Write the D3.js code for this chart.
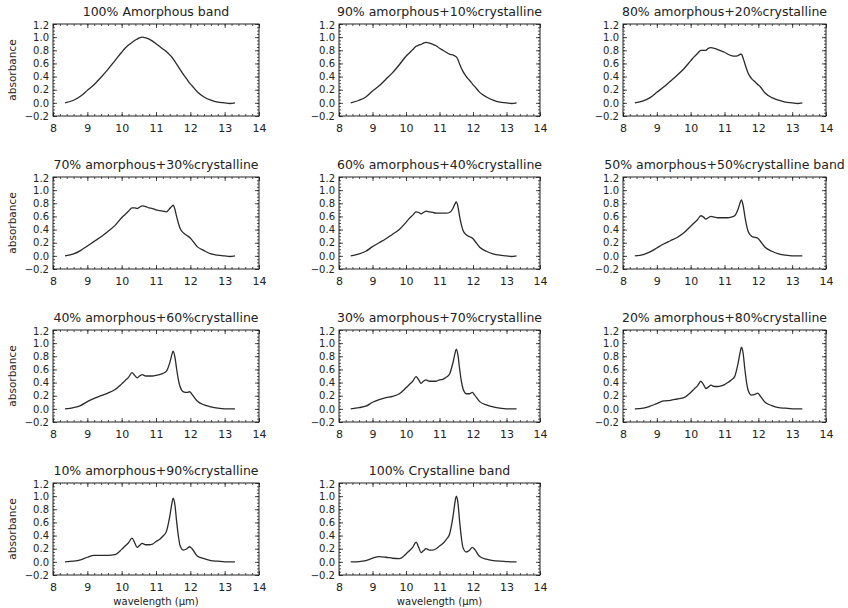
<!DOCTYPE html>
<html>
<head>
<meta charset="utf-8">
<script src="https://cdn.jsdelivr.net/npm/d3@7"></script>
<style>
  body { margin: 0; background: #fff; }
  text { font-family: "DejaVu Sans", sans-serif; fill: #222; }
</style>
</head>
<body>
<div id="chart"></div>
<script>
// wavelength grid (micron) shared by all panels
const wavelength = [8.35, 8.6, 8.8, 9.0, 9.2, 9.4, 9.6, 9.8, 10.0, 10.1, 10.2, 10.3, 10.38, 10.45, 10.52, 10.6, 10.7, 10.8, 10.9, 11.0,
  11.1, 11.2, 11.3, 11.4, 11.47, 11.5, 11.55, 11.6, 11.65, 11.7, 11.8, 11.9, 11.98, 12.05, 12.2, 12.4, 12.6, 12.8, 13.0, 13.15, 13.3];

// absorbance
const am100 = [0.00, 0.04, 0.10, 0.19, 0.28, 0.39, 0.51, 0.64, 0.77, 0.83, 0.88, 0.92, 0.95, 0.97, 0.99, 1.00, 0.99, 0.97, 0.94, 0.90,
  0.86, 0.82, 0.78, 0.73, 0.69, 0.67, 0.63, 0.59, 0.55, 0.51, 0.43, 0.36, 0.30, 0.26, 0.17, 0.09, 0.04, 0.01, 0.00, -0.01, 0.00];
const am90 = [0.00, 0.04, 0.09, 0.18, 0.26, 0.36, 0.46, 0.58, 0.71, 0.76, 0.81, 0.86, 0.88, 0.89, 0.91, 0.92, 0.91, 0.89, 0.87, 0.83,
  0.80, 0.77, 0.74, 0.73, 0.71, 0.70, 0.66, 0.59, 0.53, 0.48, 0.40, 0.34, 0.29, 0.25, 0.16, 0.09, 0.04, 0.01, 0.00, -0.01, 0.00];
const am80 = [0.00, 0.03, 0.08, 0.16, 0.24, 0.33, 0.42, 0.52, 0.64, 0.70, 0.75, 0.80, 0.80, 0.80, 0.83, 0.84, 0.83, 0.81, 0.79, 0.77,
  0.74, 0.72, 0.71, 0.72, 0.74, 0.74, 0.68, 0.60, 0.52, 0.45, 0.37, 0.32, 0.28, 0.25, 0.15, 0.08, 0.04, 0.01, 0.00, -0.01, 0.00];
const am70 = [0.00, 0.03, 0.08, 0.15, 0.22, 0.29, 0.37, 0.46, 0.58, 0.63, 0.68, 0.73, 0.73, 0.72, 0.74, 0.76, 0.75, 0.73, 0.72, 0.70,
  0.69, 0.68, 0.67, 0.72, 0.76, 0.77, 0.71, 0.60, 0.50, 0.42, 0.35, 0.31, 0.28, 0.24, 0.14, 0.08, 0.03, 0.01, 0.00, -0.01, 0.00];
const am60 = [0.00, 0.03, 0.07, 0.14, 0.20, 0.26, 0.33, 0.40, 0.51, 0.57, 0.62, 0.67, 0.66, 0.64, 0.66, 0.68, 0.67, 0.66, 0.65, 0.65,
  0.65, 0.65, 0.66, 0.72, 0.80, 0.82, 0.75, 0.60, 0.48, 0.39, 0.32, 0.29, 0.27, 0.23, 0.13, 0.07, 0.03, 0.01, 0.00, -0.01, 0.00];
const am50 = [0.00, 0.02, 0.06, 0.12, 0.18, 0.23, 0.28, 0.35, 0.45, 0.50, 0.55, 0.61, 0.59, 0.56, 0.58, 0.60, 0.59, 0.58, 0.58, 0.58,
  0.58, 0.59, 0.61, 0.71, 0.82, 0.85, 0.77, 0.61, 0.47, 0.37, 0.30, 0.28, 0.27, 0.23, 0.13, 0.07, 0.03, 0.01, 0.00, 0.00, 0.00];
const am40 = [0.00, 0.02, 0.05, 0.11, 0.16, 0.20, 0.24, 0.29, 0.38, 0.43, 0.48, 0.55, 0.51, 0.47, 0.50, 0.52, 0.50, 0.50, 0.50, 0.51,
  0.52, 0.54, 0.57, 0.70, 0.84, 0.88, 0.79, 0.61, 0.45, 0.34, 0.26, 0.25, 0.26, 0.22, 0.12, 0.06, 0.03, 0.01, 0.00, 0.00, 0.00];
const am30 = [0.00, 0.02, 0.04, 0.10, 0.14, 0.17, 0.19, 0.23, 0.32, 0.37, 0.42, 0.49, 0.44, 0.39, 0.42, 0.44, 0.42, 0.42, 0.42, 0.44,
  0.45, 0.48, 0.53, 0.70, 0.86, 0.91, 0.82, 0.61, 0.43, 0.31, 0.23, 0.23, 0.25, 0.21, 0.11, 0.06, 0.03, 0.01, 0.00, 0.00, 0.00];
const am20 = [0.00, 0.01, 0.04, 0.08, 0.12, 0.13, 0.15, 0.17, 0.25, 0.30, 0.35, 0.42, 0.37, 0.31, 0.33, 0.36, 0.34, 0.34, 0.35, 0.37,
  0.40, 0.44, 0.49, 0.69, 0.88, 0.94, 0.85, 0.61, 0.41, 0.28, 0.21, 0.22, 0.24, 0.20, 0.10, 0.05, 0.02, 0.01, 0.00, 0.00, 0.00];
const am10 = [0.00, 0.01, 0.03, 0.07, 0.10, 0.10, 0.10, 0.11, 0.19, 0.24, 0.29, 0.36, 0.29, 0.22, 0.25, 0.28, 0.26, 0.26, 0.27, 0.31,
  0.34, 0.39, 0.46, 0.69, 0.91, 0.97, 0.87, 0.62, 0.40, 0.25, 0.18, 0.20, 0.23, 0.20, 0.09, 0.05, 0.02, 0.01, 0.00, 0.00, 0.00];
const cr100 = [0.00, 0.005, 0.02, 0.055, 0.08, 0.07, 0.055, 0.05, 0.12, 0.17, 0.22, 0.30, 0.22, 0.14, 0.17, 0.20, 0.18, 0.18, 0.20, 0.24,
  0.28, 0.34, 0.42, 0.68, 0.93, 1.00, 0.90, 0.62, 0.38, 0.22, 0.15, 0.18, 0.22, 0.19, 0.08, 0.04, 0.02, 0.01, 0.005, 0.00, 0.00];

const titles = [
  "100% Amorphous band",
  "90% amorphous+10%crystalline",
  "80% amorphous+20%crystalline",
  "70% amorphous+30%crystalline",
  "60% amorphous+40%crystalline",
  "50% amorphous+50%crystalline band",
  "40% amorphous+60%crystalline",
  "30% amorphous+70%crystalline",
  "20% amorphous+80%crystalline",
  "10% amorphous+90%crystalline",
  "100% Crystalline band"
];
const panels = [am100, am90, am80, am70, am60, am50, am40, am30, am20, am10, cr100];

const xTicks = [8, 9, 10, 11, 12, 13, 14];
const yTicks = [-0.2, 0.0, 0.2, 0.4, 0.6, 0.8, 1.0, 1.2];
const xMinor = d3.range(40, 71).map(d => d / 5);
const yMinor = d3.range(-4, 25).map(d => d / 20);

// layout of the 3x4 grid
const width = 848, height = 608;
const colLeft = [53, 339, 623], colRight = [259, 540, 826];
const rowTop = [24, 177, 330, 483], plotH = 92;

const svg = d3.select("#chart").append("svg")
    .attr("width", width)
    .attr("height", height);

panels.forEach((vals, i) => {
    const col = i % 3, row = Math.floor(i / 3);
    const top = rowTop[row], bottom = top + plotH;

    const x = d3.scaleLinear().domain([8, 14]).range([colLeft[col], colRight[col]]);
    const y = d3.scaleLinear().domain([-0.2, 1.2]).range([bottom, top]);

    const g = svg.append("g");

    // minor ticks on all four sides
    g.append("g").attr("transform", "translate(0," + bottom + ")")
        .call(d3.axisBottom(x).tickValues(xMinor).tickSize(-2).tickSizeOuter(0).tickFormat(""));
    g.append("g").attr("transform", "translate(0," + top + ")")
        .call(d3.axisTop(x).tickValues(xMinor).tickSize(-2).tickSizeOuter(0).tickFormat(""));
    g.append("g").attr("transform", "translate(" + x.range()[0] + ",0)")
        .call(d3.axisLeft(y).tickValues(yMinor).tickSize(-2).tickSizeOuter(0).tickFormat(""));
    g.append("g").attr("transform", "translate(" + x.range()[1] + ",0)")
        .call(d3.axisRight(y).tickValues(yMinor).tickSize(-2).tickSizeOuter(0).tickFormat(""));

    // major ticks + labels
    g.append("g").attr("transform", "translate(0," + bottom + ")")
        .call(d3.axisBottom(x).tickValues(xTicks).tickSize(-4).tickSizeOuter(0).tickPadding(8).tickFormat(d3.format("d")));
    g.append("g").attr("transform", "translate(0," + top + ")")
        .call(d3.axisTop(x).tickValues(xTicks).tickSize(-4).tickSizeOuter(0).tickFormat(""));
    g.append("g").attr("class", "yaxis").attr("transform", "translate(" + x.range()[0] + ",0)")
        .call(d3.axisLeft(y).tickValues(yTicks).tickSize(-4).tickSizeOuter(0).tickPadding(4).tickFormat(d3.format(".1f")));
    g.append("g").attr("transform", "translate(" + x.range()[1] + ",0)")
        .call(d3.axisRight(y).tickValues(yTicks).tickSize(-4).tickSizeOuter(0).tickFormat(""));

    g.selectAll(".domain").remove();
    g.selectAll(".tick line").attr("stroke", "#222").attr("stroke-width", 0.8);
    g.selectAll(".tick text").style("font-size", "11px").attr("fill", "#222");
    g.selectAll(".yaxis .tick text")
        .style("font-size", "10px")
        .attr("dy", d => d > 1.1 ? "0.45em" : "0.32em");

    // plot box
    g.append("rect")
        .attr("x", x.range()[0])
        .attr("y", top)
        .attr("width", x.range()[1] - x.range()[0])
        .attr("height", plotH)
        .attr("fill", "none")
        .attr("stroke", "#222")
        .attr("stroke-width", 1);

    // the band
    const line = d3.line()
        .x((d, j) => x(wavelength[j]))
        .y(d => y(d))
        .curve(d3.curveMonotoneX);
    g.append("path")
        .datum(vals)
        .attr("d", line)
        .attr("fill", "none")
        .attr("stroke", "#2a2a2a")
        .attr("stroke-width", 1.3);

    // title
    g.append("text")
        .attr("x", (x.range()[0] + x.range()[1]) / 2)
        .attr("y", top - 8)
        .attr("text-anchor", "middle")
        .style("font-size", "12.5px")
        .text(titles[i]);

    if (col === 0) {
        g.append("text")
            .attr("transform", "translate(16," + (top + plotH / 2) + ") rotate(-90)")
            .attr("text-anchor", "middle")
            .style("font-size", "10.5px")
            .text("absorbance");
    }
    if (row === 3) {
        g.append("text")
            .attr("x", (x.range()[0] + x.range()[1]) / 2)
            .attr("y", bottom + 30)
            .attr("text-anchor", "middle")
            .style("font-size", "10px")
            .text("wavelength (μm)");
    }
});
</script>
</body>
</html>
